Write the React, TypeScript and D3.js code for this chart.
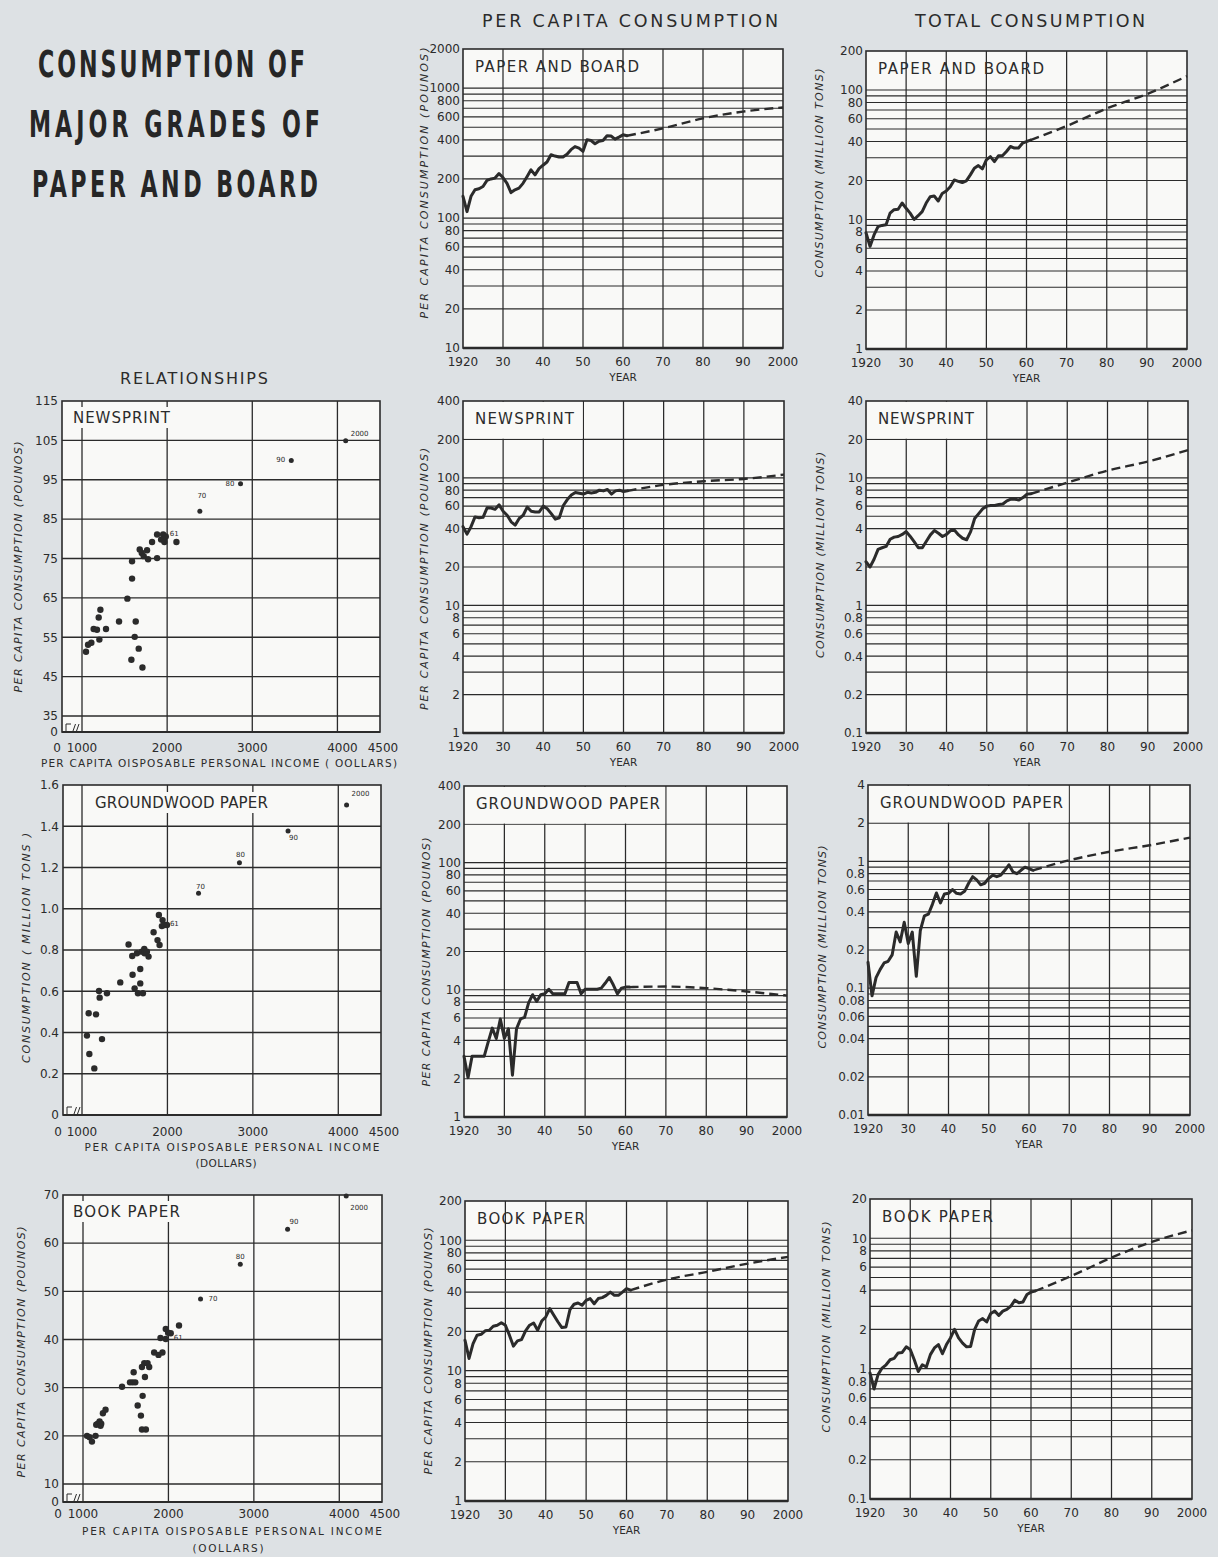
import React from "react";
import * as d3 from "d3";

// ---------------- DATA ----------------
const histYears = [
  1920, 1921, 1922, 1923, 1924, 1925, 1926, 1927, 1928, 1929,
  1930, 1931, 1932, 1933, 1934, 1935, 1936, 1937, 1938, 1939,
  1940, 1941, 1942, 1943, 1944, 1945, 1946, 1947, 1948, 1949,
  1950, 1951, 1952, 1953, 1954, 1955, 1956, 1957, 1958, 1959,
  1960, 1961,
];
const projYears = [1961, 1970, 1980, 1990, 2000];

const yearTicks = [1920, 1930, 1940, 1950, 1960, 1970, 1980, 1990, 2000];
const yearTickLabels = ["1920", "30", "40", "50", "60", "70", "80", "90", "2000"];

// Paper and board
const pbPerCapita = [
  147, 112, 147, 165, 168, 175, 195, 200, 203, 220,
  205, 185, 157, 165, 170, 185, 208, 235, 215, 240,
  255, 270, 307, 300, 295, 295, 310, 336, 355, 345,
  326, 400, 395, 373, 390, 395, 430, 428, 405, 420,
  437, 430,
];
const pbPerCapitaProj = [430, 490, 585, 660, 710];
const pbTotal = [
  7.9, 6.2, 7.6, 8.8, 9.0, 9.1, 11.2, 11.9, 12.0, 13.4,
  12.2, 11.2, 10.0, 10.7, 11.5, 13.4, 15.0, 15.2, 13.9, 15.9,
  16.6, 17.9, 20.2, 19.7, 19.3, 19.9, 22.1, 24.9, 26.1, 24.6,
  28.9, 30.6, 28.0, 31.0, 31.0, 33.5, 36.6, 35.6, 35.6, 38.8,
  40.0, 41.0,
];
const pbTotalProj = [41, 52.7, 72, 93, 128];

// Newsprint
const npPerCapita = [
  41.4, 36.2, 41.4, 49.4, 48.6, 49, 58.2, 58, 56.6, 61.4,
  54.7, 50.9, 45.2, 42.6, 48, 50.9, 59, 54.7, 54, 54,
  60, 57.2, 52.4, 47.4, 48.6, 60.7, 67.5, 73.2, 76.8, 75.8,
  74.6, 77, 76, 77, 80, 79, 81, 74.6, 79, 80,
  78, 79,
];
const npPerCapitaProj = [79, 88, 94, 98, 106];
const npTotal = [
  2.2, 2.0, 2.3, 2.75, 2.83, 2.9, 3.3, 3.43, 3.47, 3.6,
  3.79, 3.47, 3.15, 2.83, 2.83, 3.18, 3.57, 3.86, 3.68, 3.47,
  3.6, 3.86, 3.88, 3.57, 3.36, 3.27, 3.79, 4.8, 5.24, 5.72,
  6.0, 6.06, 6.06, 6.17, 6.24, 6.6, 6.8, 6.8, 6.7, 7.0,
  7.45, 7.5,
];
const npTotalProj = [7.5, 9.16, 11.4, 13.4, 16.5];

// Groundwood paper
const gwPerCapita = [
  3.0, 2.04, 3.0, 3.0, 3.0, 3.0, 3.9, 5.0, 4.14, 5.9,
  4.14, 4.93, 2.13, 4.93, 5.9, 6.06, 7.9, 9.15, 8.1, 9.15,
  9.3, 10.1, 9.3, 9.3, 9.3, 9.3, 11.4, 11.4, 11.4, 9.3,
  10.1, 10.1, 10.1, 10.1, 10.3, 11.3, 12.5, 10.9, 9.3, 10.3,
  10.5, 10.5,
];
const gwPerCapitaProj = [10.5, 10.6, 10.3, 9.7, 9.0];
const gwTotal = [
  0.16, 0.087, 0.121, 0.14, 0.158, 0.163, 0.183, 0.277, 0.232, 0.331,
  0.225, 0.277, 0.124, 0.285, 0.372, 0.383, 0.458, 0.563, 0.47, 0.553,
  0.56, 0.598, 0.56, 0.553, 0.58, 0.672, 0.757, 0.714, 0.653, 0.672,
  0.735, 0.78, 0.757, 0.78, 0.85, 0.94, 0.827, 0.8, 0.85, 0.9,
  0.877, 0.85,
];
const gwTotalProj = [0.85, 1.02, 1.19, 1.34, 1.54];

// Book paper
const bpPerCapita = [
  17.1, 12.4, 16.1, 18.7, 19, 20.2, 20.4, 21.9, 22.3, 23.3,
  22.3, 18.7, 15.4, 16.9, 17.3, 20.2, 22.3, 23.2, 20.4, 24,
  25.8, 29.9, 26.6, 23.7, 21.4, 21.6, 29.4, 32.3, 33, 31.7,
  34.6, 35.7, 32.6, 35.7, 36.3, 37.8, 40, 37.8, 37.8, 40,
  42.5, 41.4,
];
const bpPerCapitaProj = [41.4, 49.9, 57.2, 66.2, 74.5];
const bpTotal = [
  0.927, 0.698, 0.9, 1.01, 1.07, 1.17, 1.2, 1.32, 1.33, 1.47,
  1.4, 1.17, 0.95, 1.07, 1.03, 1.28, 1.44, 1.53, 1.3, 1.53,
  1.72, 2.0, 1.72, 1.57, 1.47, 1.48, 2.0, 2.32, 2.42, 2.28,
  2.65, 2.76, 2.56, 2.76, 2.85, 3.02, 3.35, 3.2, 3.24, 3.7,
  3.86, 3.93,
];
const bpTotalProj = [3.93, 5.13, 7.1, 9.37, 11.5];

// Log-axis tick labels
const pbPerCapitaTicks = [2000, 1000, 800, 600, 400, 200, 100, 80, 60, 40, 20, 10];
const pbTotalTicks = [200, 100, 80, 60, 40, 20, 10, 8, 6, 4, 2, 1];
const npPerCapitaTicks = [400, 200, 100, 80, 60, 40, 20, 10, 8, 6, 4, 2, 1];
const npTotalTicks = [40, 20, 10, 8, 6, 4, 2, 1, 0.8, 0.6, 0.4, 0.2, 0.1];
const gwPerCapitaTicks = [400, 200, 100, 80, 60, 40, 20, 10, 8, 6, 4, 2, 1];
const gwTotalTicks = [4, 2, 1, 0.8, 0.6, 0.4, 0.2, 0.1, 0.08, 0.06, 0.04, 0.02, 0.01];
const bpPerCapitaTicks = [200, 100, 80, 60, 40, 20, 10, 8, 6, 4, 2, 1];
const bpTotalTicks = [20, 10, 8, 6, 4, 2, 1, 0.8, 0.6, 0.4, 0.2, 0.1];

// Relationships (scatter): income (dollars) vs consumption; last point = 1961
const incomeTicks = [1000, 2000, 3000, 4000, 4500];
const incomeTickLabels = ["1000", "2000", "3000", "4000", "4500"];
const projPointLabels = ["70", "80", "90", "2000"];

const npIncome = [
  1047, 1071, 1110, 1137, 1176, 1204, 1196, 1216, 1282, 1435,
  1533, 1588, 1588, 1631, 1619, 1666, 1580, 1710, 1678, 1702,
  1725, 1764, 1776, 1823, 1882, 1882, 1929, 1953, 1960, 1968,
  2109, 1984,
];
const npPounds = [
  51.3, 53.1, 53.6, 57.1, 56.9, 54.4, 60.0, 62.0, 57.1, 59.0,
  64.8, 69.9, 74.3, 59.0, 55.1, 52.1, 49.3, 47.3, 77.3, 76.4,
  75.6, 77.1, 74.8, 79.2, 75.1, 81.1, 79.8, 81.1, 79.8, 79.2,
  79.2, 80.6,
];
const npProjIncome = [2384, 2862, 3458, 4097];
const npProjPounds = [87.0, 94.0, 99.9, 104.9];
const npYTicks = [115, 105, 95, 85, 75, 65, 55, 45, 35];

const gwIncome = [
  1058, 1078, 1086, 1144, 1164, 1199, 1207, 1234, 1292, 1448,
  1545, 1588, 1592, 1616, 1643, 1655, 1682, 1682, 1713, 1701,
  1729, 1733, 1760, 1779, 1838, 1884, 1900, 1908, 1943, 1935,
  1966, 1994,
];
const gwTons = [
  0.385, 0.493, 0.296, 0.226, 0.488, 0.601, 0.569, 0.368, 0.59, 0.643,
  0.827, 0.771, 0.68, 0.614, 0.784, 0.59, 0.708, 0.638, 0.59, 0.792,
  0.805, 0.784, 0.792, 0.768, 0.886, 0.848, 0.97, 0.824, 0.945, 0.916,
  0.921, 0.921,
];
const gwProjIncome = [2364, 2843, 3412, 4097];
const gwProjTons = [1.075, 1.223, 1.377, 1.503];
const gwYTicks = [1.6, 1.4, 1.2, 1.0, 0.8, 0.6, 0.4, 0.2, 0];

const bpIncome = [
  1047, 1078, 1105, 1147, 1155, 1174, 1194, 1205, 1213, 1233,
  1264, 1457, 1550, 1581, 1612, 1593, 1640, 1678, 1698, 1690,
  1736, 1725, 1690, 1717, 1756, 1775, 1833, 1884, 1930, 1907,
  1969, 1969, 1996, 2124, 2027,
];
const bpPounds = [
  20.0, 19.7, 18.8, 20.0, 22.3, 22.5, 23.0, 22.1, 22.5, 24.7,
  25.4, 30.2, 31.1, 31.1, 31.1, 33.2, 26.3, 24.2, 28.3, 21.3,
  21.3, 32.2, 34.3, 35.1, 35.1, 34.3, 37.3, 36.8, 37.3, 40.3,
  40.1, 42.2, 41.4, 42.9, 41.3,
];
const bpProjIncome = [2376, 2841, 3395, 4081];
const bpProjPounds = [48.4, 55.6, 62.9, 69.8];
const bpYTicks = [70, 60, 50, 40, 30, 20, 10];

// ---------------- STYLE ----------------
const FONT = "'DejaVu Sans', 'Liberation Sans', sans-serif";
const INK = "#2b2b2b";
const BG = "#dde1e4";
const PLOT = "#f9f9f7";

type LogCfg = {
  left: number; right: number; top: number; bottom: number;
  min: number; max: number; ticks: number[];
  hist: number[]; proj: number[];
  title: string; titleLen: number;
  box?: [number, number];
  yTitle: string; yTitleX: number; yTitleC: number; yTitleLen: number;
};

function LogPanel({ c }: { c: LogCfg }) {
  const x = d3.scaleLinear().domain([1920, 2000]).range([c.left, c.right]);
  const y = d3.scaleLog().domain([c.min, c.max]).range([c.bottom, c.top]);
  const lo = Math.round(Math.log10(c.min));
  const hi = Math.floor(Math.log10(c.max) + 1e-9);
  const grid: number[] = [];
  for (let e = lo; e <= hi; e++) {
    for (let k = 1; k <= 9; k++) {
      const v = k * Math.pow(10, e);
      if (v <= c.min * 1.0001 || v >= c.max * 0.9999) continue;
      if (e === hi && k > 2) continue;
      grid.push(v);
    }
  }
  const line = d3.line<[number, number]>().x((d) => x(d[0])).y((d) => y(d[1]));
  const projLine = d3
    .line<[number, number]>()
    .x((d) => x(d[0]))
    .y((d) => y(d[1]))
    .curve(d3.curveMonotoneX);
  const histPts = histYears.map((yr, i) => [yr, c.hist[i]] as [number, number]);
  const projPts = projYears.map((yr, i) => [yr, c.proj[i]] as [number, number]);
  return (
    <g>
      <rect x={c.left} y={c.top} width={c.right - c.left} height={c.bottom - c.top} fill={PLOT} />
      {grid.map((v) => (
        <line key={"h" + v} x1={c.left} x2={c.right} y1={y(v)} y2={y(v)} stroke={INK} strokeWidth={1.15} />
      ))}
      {yearTicks.slice(1, -1).map((yr) => (
        <line key={"v" + yr} x1={x(yr)} x2={x(yr)} y1={c.top} y2={c.bottom} stroke={INK} strokeWidth={1.25} />
      ))}
      {c.box && (
        <rect
          x={c.left + 0.8}
          y={c.top + 0.8}
          width={x(c.box[0]) - c.left - 1.5}
          height={y(c.box[1]) - c.top - 1.5}
          fill={PLOT}
        />
      )}
      <rect x={c.left} y={c.top} width={c.right - c.left} height={c.bottom - c.top} fill="none" stroke={INK} strokeWidth={1.6} />
      <line x1={c.left} x2={c.right} y1={c.bottom} y2={c.bottom} stroke={INK} strokeWidth={2.4} />
      <path d={line(histPts) || ""} fill="none" stroke={INK} strokeWidth={3} strokeLinejoin="round" strokeLinecap="round" />
      <path d={projLine(projPts) || ""} fill="none" stroke={INK} strokeWidth={2.4} strokeDasharray="9 5" />
      <text
        x={c.left + 12}
        y={c.top + 23}
        fontFamily={FONT}
        fontSize={15}
        fill={INK}
        textLength={c.titleLen}
        lengthAdjust="spacing"
      >
        {c.title}
      </text>
      {c.ticks.map((v) => (
        <text key={"t" + v} x={c.left - 3} y={y(v)} dy="0.36em" textAnchor="end" fontFamily={FONT} fontSize={12} fill={INK}>
          {String(v)}
        </text>
      ))}
      {yearTicks.map((yr, i) => (
        <text key={"yl" + yr} x={x(yr)} y={c.bottom + 18} textAnchor="middle" fontFamily={FONT} fontSize={12} fill={INK}>
          {yearTickLabels[i]}
        </text>
      ))}
      <text x={(c.left + c.right) / 2} y={c.bottom + 33} textAnchor="middle" fontFamily={FONT} fontSize={10.5} fill={INK}>
        YEAR
      </text>
      <text
        transform={`translate(${c.yTitleX},${c.yTitleC}) rotate(-90)`}
        textAnchor="middle"
        fontFamily={FONT}
        fontStyle="italic"
        fontSize={11}
        fill={INK}
        textLength={c.yTitleLen}
        lengthAdjust="spacing"
      >
        {c.yTitle}
      </text>
    </g>
  );
}

type ScatCfg = {
  left: number; right: number; top: number; bottom: number;
  x1000: number; yMin: number; yMax: number; yMinPos: number;
  yTicks: number[]; fmt: (v: number) => string; zeroAtBottom: boolean;
  income: number[]; values: number[]; projIncome: number[]; projValues: number[];
  labelOffsets: [number, number, string][]; offset61: [number, number];
  title: string; titleX: number; titleBase: number; titleLen: number;
  yTitle: string; yTitleX: number; yTitleC: number; yTitleLen: number;
  xTitles: { text: string; cx: number; base: number; len: number }[];
  tickBase: number;
};

const xTickShift = [0, 0, 0, 5, 3];

function ScatterPanel({ c }: { c: ScatCfg }) {
  const x = d3.scaleLinear().domain([1000, 4500]).range([c.x1000, c.right]);
  const y = d3.scaleLinear().domain([c.yMin, c.yMax]).range([c.yMinPos, c.top]);
  const gridY = c.yTicks.filter((v) => y(v) > c.top + 1 && y(v) < c.bottom - 1);
  const n = c.income.length;
  return (
    <g>
      <rect x={c.left} y={c.top} width={c.right - c.left} height={c.bottom - c.top} fill={PLOT} />
      {gridY.map((v) => (
        <line key={"h" + v} x1={c.left} x2={c.right} y1={y(v)} y2={y(v)} stroke={INK} strokeWidth={1.3} />
      ))}
      {incomeTicks.slice(0, 4).map((v) => (
        <line key={"v" + v} x1={x(v)} x2={x(v)} y1={c.top} y2={c.bottom} stroke={INK} strokeWidth={1.3} />
      ))}
      <rect x={c.left} y={c.top} width={c.right - c.left} height={c.bottom - c.top} fill="none" stroke={INK} strokeWidth={1.6} />
      <line x1={c.left} x2={c.right} y1={c.bottom} y2={c.bottom} stroke={INK} strokeWidth={2.2} />
      <path
        d={`M${c.left + 4},${c.bottom - 1} v-7 h5 M${c.left + 11},${c.bottom - 1} l2.5,-7 M${c.left + 14.5},${c.bottom - 1} l2.5,-7`}
        fill="none"
        stroke={INK}
        strokeWidth={1}
      />
      <rect x={c.titleX - 4} y={c.titleBase - 16} width={c.titleLen + 8} height={21} fill={PLOT} />
      <text x={c.titleX} y={c.titleBase} fontFamily={FONT} fontSize={15} fill={INK} textLength={c.titleLen} lengthAdjust="spacing">
        {c.title}
      </text>
      {c.income.map((v, i) => (
        <circle key={"p" + i} cx={x(v)} cy={y(c.values[i])} r={3.2} fill={INK} />
      ))}
      {c.projIncome.map((v, i) => (
        <circle key={"q" + i} cx={x(v)} cy={y(c.projValues[i])} r={2.5} fill={INK} />
      ))}
      {c.projIncome.map((v, i) => (
        <text
          key={"ql" + i}
          x={x(v) + c.labelOffsets[i][0]}
          y={y(c.projValues[i]) + c.labelOffsets[i][1]}
          dy="0.35em"
          textAnchor={c.labelOffsets[i][2] as any}
          fontFamily={FONT}
          fontSize={7}
          fill={INK}
        >
          {projPointLabels[i]}
        </text>
      ))}
      <text
        x={x(c.income[n - 1]) + c.offset61[0]}
        y={y(c.values[n - 1]) + c.offset61[1]}
        dy="0.35em"
        fontFamily={FONT}
        fontSize={7}
        fill={INK}
      >
        61
      </text>
      {c.yTicks.map((v) => (
        <text key={"yt" + v} x={c.left - 4} y={y(v)} dy="0.36em" textAnchor="end" fontFamily={FONT} fontSize={12} fill={INK}>
          {c.fmt(v)}
        </text>
      ))}
      {c.zeroAtBottom && (
        <text x={c.left - 4} y={c.bottom} dy="0.36em" textAnchor="end" fontFamily={FONT} fontSize={12} fill={INK}>
          0
        </text>
      )}
      <text x={c.left - 5} y={c.tickBase} textAnchor="middle" fontFamily={FONT} fontSize={12} fill={INK}>
        0
      </text>
      {incomeTicks.map((v, i) => (
        <text key={"xt" + v} x={x(v) + xTickShift[i]} y={c.tickBase} textAnchor="middle" fontFamily={FONT} fontSize={12} fill={INK}>
          {incomeTickLabels[i]}
        </text>
      ))}
      {c.xTitles.map((t, i) => (
        <text
          key={"xtt" + i}
          x={t.cx}
          y={t.base}
          textAnchor="middle"
          fontFamily={FONT}
          fontSize={10.5}
          fill={INK}
          textLength={t.len}
          lengthAdjust="spacing"
        >
          {t.text}
        </text>
      ))}
      <text
        transform={`translate(${c.yTitleX},${c.yTitleC}) rotate(-90)`}
        textAnchor="middle"
        fontFamily={FONT}
        fontStyle="italic"
        fontSize={11}
        fill={INK}
        textLength={c.yTitleLen}
        lengthAdjust="spacing"
      >
        {c.yTitle}
      </text>
    </g>
  );
}

const PC_TITLE = "PER CAPITA CONSUMPTION (POUNOS)";
const TOT_TITLE = "CONSUMPTION (MILLION TONS)";

const logPanels: LogCfg[] = [
  { left: 463, right: 783, top: 49, bottom: 348, min: 10, max: 2000, ticks: pbPerCapitaTicks, hist: pbPerCapita, proj: pbPerCapitaProj,
    title: "PAPER  AND  BOARD", titleLen: 164, yTitle: PC_TITLE, yTitleX: 428, yTitleC: 183, yTitleLen: 271 },
  { left: 866, right: 1187, top: 51, bottom: 349, min: 1, max: 200, ticks: pbTotalTicks, hist: pbTotal, proj: pbTotalProj,
    title: "PAPER  AND  BOARD", titleLen: 166, yTitle: TOT_TITLE, yTitleX: 823, yTitleC: 173, yTitleLen: 209 },
  { left: 463, right: 784, top: 401, bottom: 733, min: 1, max: 400, ticks: npPerCapitaTicks, hist: npPerCapita, proj: npPerCapitaProj,
    title: "NEWSPRINT", titleLen: 99, box: [1950, 200], yTitle: PC_TITLE, yTitleX: 428, yTitleC: 579, yTitleLen: 262 },
  { left: 866, right: 1188, top: 401, bottom: 733, min: 0.1, max: 40, ticks: npTotalTicks, hist: npTotal, proj: npTotalProj,
    title: "NEWSPRINT", titleLen: 96, box: [1950, 20], yTitle: TOT_TITLE, yTitleX: 824, yTitleC: 555, yTitleLen: 206 },
  { left: 464, right: 787, top: 786, bottom: 1117, min: 1, max: 400, ticks: gwPerCapitaTicks, hist: gwPerCapita, proj: gwPerCapitaProj,
    title: "GROUNDWOOD  PAPER", titleLen: 184, box: [1970, 200], yTitle: PC_TITLE, yTitleX: 430, yTitleC: 962, yTitleLen: 249 },
  { left: 868, right: 1190, top: 785, bottom: 1115, min: 0.01, max: 4, ticks: gwTotalTicks, hist: gwTotal, proj: gwTotalProj,
    title: "GROUNDWOOD  PAPER", titleLen: 183, box: [1970, 2], yTitle: TOT_TITLE, yTitleX: 826, yTitleC: 947, yTitleLen: 203 },
  { left: 465, right: 788, top: 1201, bottom: 1501, min: 1, max: 200, ticks: bpPerCapitaTicks, hist: bpPerCapita, proj: bpPerCapitaProj,
    title: "BOOK  PAPER", titleLen: 108, yTitle: PC_TITLE, yTitleX: 432, yTitleC: 1351, yTitleLen: 247 },
  { left: 870, right: 1192, top: 1199, bottom: 1499, min: 0.1, max: 20, ticks: bpTotalTicks, hist: bpTotal, proj: bpTotalProj,
    title: "BOOK  PAPER", titleLen: 111, yTitle: TOT_TITLE, yTitleX: 830, yTitleC: 1327, yTitleLen: 211 },
];

const scatterPanels: ScatCfg[] = [
  {
    left: 62, right: 380, top: 401, bottom: 732, x1000: 82, yMin: 35, yMax: 115, yMinPos: 716,
    yTicks: npYTicks, fmt: (v) => String(v), zeroAtBottom: true,
    income: npIncome, values: npPounds, projIncome: npProjIncome, projValues: npProjPounds,
    labelOffsets: [[2, -16, "middle"], [-6, 0, "end"], [-6, -1, "end"], [5, -7, "start"]], offset61: [4, -3],
    title: "NEWSPRINT", titleX: 73, titleBase: 423, titleLen: 97,
    yTitle: PC_TITLE, yTitleX: 22, yTitleC: 567, yTitleLen: 251,
    xTitles: [{ text: "PER CAPITA OISPOSABLE PERSONAL INCOME ( OOLLARS)", cx: 219, base: 767, len: 356 }],
    tickBase: 752,
  },
  {
    left: 63, right: 381, top: 785, bottom: 1115, x1000: 82, yMin: 0, yMax: 1.6, yMinPos: 1115,
    yTicks: gwYTicks, fmt: (v) => (v === 0 ? "0" : v.toFixed(1)), zeroAtBottom: false,
    income: gwIncome, values: gwTons, projIncome: gwProjIncome, projValues: gwProjTons,
    labelOffsets: [[2, -7, "middle"], [1, -8, "middle"], [1, 7, "start"], [5, -11, "start"]], offset61: [3, -1],
    title: "GROUNDWOOD  PAPER", titleX: 95, titleBase: 808, titleLen: 173,
    yTitle: "CONSUMPTION  ( MILLION  TONS )", yTitleX: 30, yTitleC: 948, yTitleLen: 230,
    xTitles: [
      { text: "PER CAPITA OISPOSABLE PERSONAL INCOME", cx: 232, base: 1151, len: 295 },
      { text: "(DOLLARS)", cx: 226, base: 1167, len: 61 },
    ],
    tickBase: 1136,
  },
  {
    left: 63, right: 382, top: 1195, bottom: 1502, x1000: 83, yMin: 10, yMax: 70, yMinPos: 1484,
    yTicks: bpYTicks, fmt: (v) => String(v), zeroAtBottom: true,
    income: bpIncome, values: bpPounds, projIncome: bpProjIncome, projValues: bpProjPounds,
    labelOffsets: [[8, 0, "start"], [0, -8, "middle"], [2, -8, "start"], [4, 12, "start"]], offset61: [3, 4],
    title: "BOOK  PAPER", titleX: 73, titleBase: 1217, titleLen: 107,
    yTitle: PC_TITLE, yTitleX: 25, yTitleC: 1352, yTitleLen: 251,
    xTitles: [
      { text: "PER CAPITA OISPOSABLE PERSONAL INCOME", cx: 232, base: 1535, len: 300 },
      { text: "(OOLLARS)", cx: 228, base: 1552, len: 71 },
    ],
    tickBase: 1518,
  },
];

const TITLE_SX = 0.6;
const mainTitle = [
  { text: "CONSUMPTION OF", x: 38, y: 77, len: 267 },
  { text: "MAJOR GRADES OF", x: 29, y: 137, len: 291 },
  { text: "PAPER AND BOARD", x: 32, y: 197, len: 286 },
];

export default function App() {
  return (
    <div style={{ position: "absolute", left: 0, top: 0 }}>
      <svg width={1218} height={1557} viewBox="0 0 1218 1557" style={{ display: "block" }}>
        <rect x={0} y={0} width={1218} height={1557} fill={BG} />
        {mainTitle.map((t, i) => (
          <text
            key={"mt" + i}
            transform={`translate(${t.x},${t.y}) scale(${TITLE_SX},1)`}
            fontFamily={FONT}
            fontWeight="bold"
            fontSize={37}
            fill="#262626"
            textLength={t.len / TITLE_SX}
            lengthAdjust="spacing"
          >
            {t.text}
          </text>
        ))}
        <text x={482} y={27} fontFamily={FONT} fontSize={17.5} fill={INK} textLength={296} lengthAdjust="spacing">
          PER  CAPITA  CONSUMPTION
        </text>
        <text x={915} y={27} fontFamily={FONT} fontSize={17.5} fill={INK} textLength={230} lengthAdjust="spacing">
          TOTAL  CONSUMPTION
        </text>
        <text x={120} y={384} fontFamily={FONT} fontSize={16} fill={INK} textLength={148} lengthAdjust="spacing">
          RELATIONSHIPS
        </text>
        {logPanels.map((c, i) => (
          <LogPanel key={"lp" + i} c={c} />
        ))}
        {scatterPanels.map((c, i) => (
          <ScatterPanel key={"sp" + i} c={c} />
        ))}
      </svg>
    </div>
  );
}
